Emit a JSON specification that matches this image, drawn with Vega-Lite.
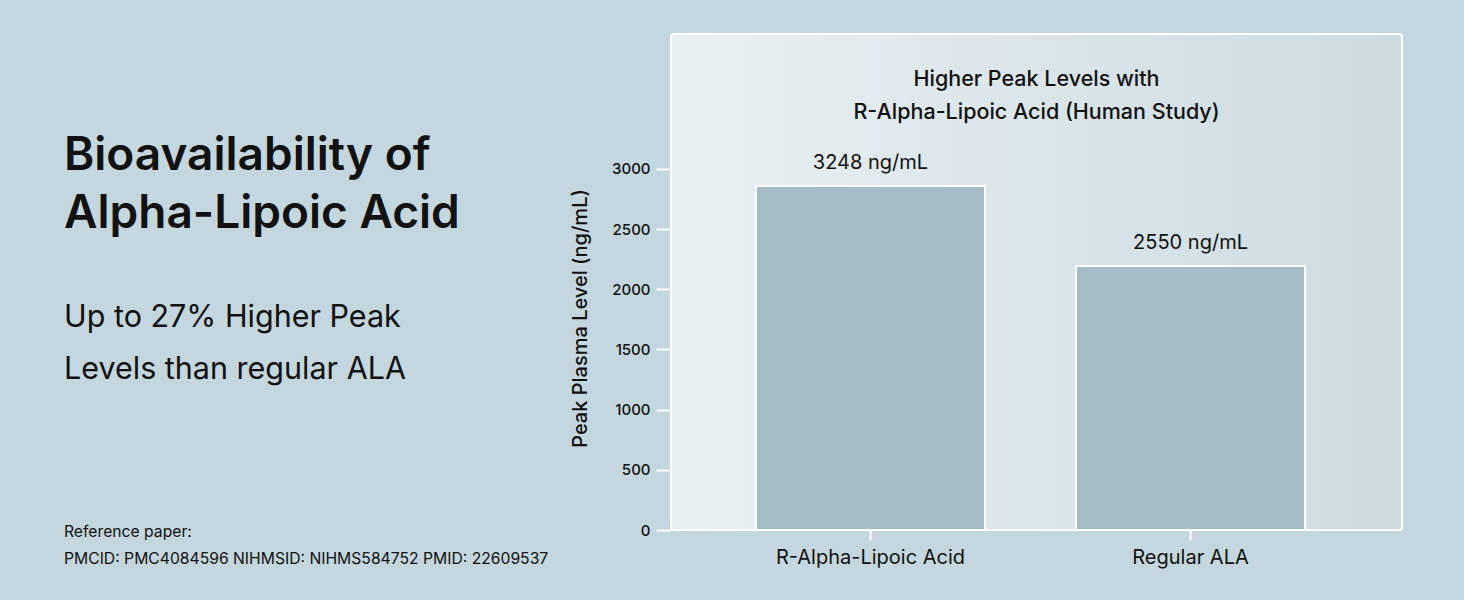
{
  "$schema": "https://vega.github.io/schema/vega-lite/v6.json",
  "background": "#c4d6de",
  "padding": {"left": 64, "top": 33, "right": 62, "bottom": 27},
  "bounds": "flush",
  "spacing": 127,
  "config": {
    "view": {"stroke": null},
    "font": "Inter",
    "text": {"font": "Inter", "color": "#111111"}
  },
  "hconcat": [
    {
      "width": 480,
      "height": 540,
      "title": {
        "text": ["Bioavailability of", "Alpha-Lipoic Acid"],
        "subtitle": ["Up to 27% Higher Peak", "Levels than regular ALA"],
        "orient": "top",
        "anchor": "start",
        "frame": "group",
        "offset": -352,
        "font": "Inter",
        "fontSize": 46,
        "fontWeight": 600,
        "lineHeight": 58,
        "color": "#111111",
        "subtitleFont": "Inter",
        "subtitleFontSize": 30.5,
        "subtitleFontWeight": 400,
        "subtitleLineHeight": 52,
        "subtitleColor": "#111111",
        "subtitlePadding": 65
      },
      "data": {
        "values": [
          {"order": 1, "line": "Reference paper:"},
          {"order": 2, "line": "PMCID: PMC4084596 NIHMSID: NIHMS584752 PMID: 22609537"}
        ]
      },
      "mark": {"type": "text", "align": "left", "baseline": "middle", "fontSize": 15.7, "font": "Inter", "color": "#111111"},
      "encoding": {
        "x": {"datum": 0, "type": "quantitative", "scale": {"domain": [0, 1]}, "axis": null},
        "y": {"field": "order", "type": "quantitative", "axis": null, "scale": {"domain": [-17.44, 2.56], "reverse": true, "nice": false, "zero": false}},
        "text": {"field": "line"}
      }
    },
    {
      "width": 731,
      "height": 496,
      "view": {
        "fill": {
          "gradient": "linear",
          "x1": 0, "y1": 0, "x2": 1, "y2": 0,
          "stops": [
            {"offset": 0, "color": "#e9f0f3"},
            {"offset": 1, "color": "#cddbe1"}
          ]
        },
        "stroke": "#ffffff",
        "strokeWidth": 2,
        "cornerRadius": 3
      },
      "title": {
        "text": ["Higher Peak Levels with", "R-Alpha-Lipoic Acid (Human Study)"],
        "orient": "top",
        "anchor": "middle",
        "frame": "group",
        "offset": -89,
        "font": "Inter",
        "fontSize": 21.5,
        "fontWeight": 500,
        "lineHeight": 33,
        "color": "#111111"
      },
      "data": {
        "values": [
          {"form": "R-Alpha-Lipoic Acid", "plotted": 2858, "label": "3248 ng/mL"},
          {"form": "Regular ALA", "plotted": 2193, "label": "2550 ng/mL"}
        ]
      },
      "encoding": {
        "x": {
          "field": "form",
          "type": "nominal",
          "sort": null,
          "scale": {"paddingInner": 0.284, "paddingOuter": 0.284, "align": 0.467},
          "axis": {
            "title": null,
            "labelAngle": 0,
            "labelLimit": 400,
            "domain": false,
            "ticks": true,
            "tickColor": "#ffffff",
            "tickWidth": 2,
            "tickSize": 10,
            "labelFont": "Inter",
            "labelFontSize": 20,
            "labelColor": "#111111",
            "labelPadding": 7
          }
        },
        "y": {
          "field": "plotted",
          "type": "quantitative",
          "scale": {"domain": [0, 4120], "nice": false},
          "axis": {
            "title": "Peak Plasma Level (ng/mL)",
            "values": [0, 500, 1000, 1500, 2000, 2500, 3000],
            "format": "d",
            "grid": false,
            "domain": false,
            "tickColor": "#ffffff",
            "tickWidth": 2,
            "tickSize": 15,
            "labelFont": "Inter",
            "labelFontSize": 15,
            "labelFontWeight": 500,
            "labelColor": "#111111",
            "labelPadding": 6,
            "titleFont": "Inter",
            "titleFontSize": 20,
            "titleFontWeight": 500,
            "titleColor": "#111111",
            "titlePadding": 21,
            "titleY": 284
          }
        }
      },
      "layer": [
        {
          "mark": {"type": "bar", "color": "#a6bdc6", "stroke": "#ffffff", "strokeWidth": 2}
        },
        {
          "mark": {"type": "text", "baseline": "alphabetic", "dy": -17, "fontSize": 20, "font": "Inter", "color": "#111111"},
          "encoding": {"text": {"field": "label"}}
        }
      ]
    }
  ]
}
